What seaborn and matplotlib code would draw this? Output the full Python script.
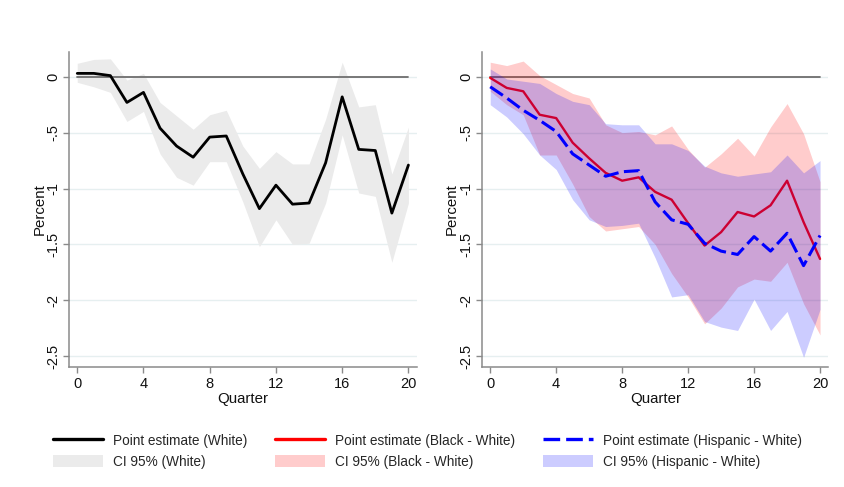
import numpy as np
import pandas as pd
import matplotlib
matplotlib.use("Agg")
import matplotlib.pyplot as plt
import seaborn as sns
from matplotlib.lines import Line2D
from matplotlib.patches import Patch

# ---------------- data ----------------
quarters = list(range(21))

white_est = [0.03, 0.03, 0.01, -0.23, -0.14, -0.46, -0.62, -0.72, -0.54, -0.53, -0.87,
             -1.18, -0.97, -1.14, -1.13, -0.77, -0.18, -0.65, -0.66, -1.22, -0.79]
white_hi = [0.12, 0.155, 0.16, -0.03, 0.03, -0.23, -0.35, -0.47, -0.34, -0.30, -0.62,
            -0.82, -0.67, -0.78, -0.78, -0.38, 0.13, -0.27, -0.25, -0.87, -0.45]
white_lo = [-0.05, -0.09, -0.14, -0.40, -0.31, -0.69, -0.90, -0.97, -0.76, -0.76, -1.12,
            -1.52, -1.28, -1.50, -1.49, -1.13, -0.52, -1.04, -1.07, -1.66, -1.13]

black_est = [-0.01, -0.10, -0.13, -0.34, -0.37, -0.59, -0.73, -0.86, -0.93, -0.90, -1.03,
             -1.10, -1.31, -1.51, -1.39, -1.21, -1.25, -1.15, -0.93, -1.30, -1.63]
black_hi = [0.13, 0.10, 0.14, 0.01, -0.07, -0.15, -0.19, -0.43, -0.50, -0.49, -0.52,
            -0.44, -0.65, -0.81, -0.69, -0.55, -0.71, -0.45, -0.24, -0.51, -0.94]
black_lo = [-0.13, -0.25, -0.34, -0.70, -0.70, -0.96, -1.25, -1.38, -1.36, -1.34, -1.50,
            -1.76, -1.97, -2.21, -2.07, -1.88, -1.81, -1.83, -1.66, -2.03, -2.31]

hisp_est = [-0.09, -0.19, -0.30, -0.39, -0.49, -0.69, -0.79, -0.89, -0.85, -0.84, -1.12,
            -1.28, -1.32, -1.49, -1.56, -1.59, -1.43, -1.56, -1.40, -1.69, -1.42]
hisp_hi = [0.07, -0.02, -0.04, -0.06, -0.15, -0.22, -0.25, -0.42, -0.43, -0.43, -0.60,
           -0.60, -0.66, -0.80, -0.86, -0.89, -0.87, -0.85, -0.70, -0.86, -0.75]
hisp_lo = [-0.25, -0.36, -0.51, -0.70, -0.83, -1.10, -1.28, -1.34, -1.33, -1.31, -1.62,
           -1.97, -1.95, -2.19, -2.24, -2.27, -1.99, -2.27, -2.10, -2.51, -2.08]

yticks = [0, -0.5, -1, -1.5, -2, -2.5]
ytick_labels = ["0", "-.5", "-1", "-1.5", "-2", "-2.5"]
xticks = [0, 4, 8, 12, 16, 20]

legend_labels = ["Point estimate (White)", "CI 95% (White)",
                 "Point estimate (Black - White)", "CI 95% (Black - White)",
                 "Point estimate (Hispanic - White)", "CI 95% (Hispanic - White)"]

# ---------------- style ----------------
sns.set_theme(style="white")
plt.rcParams["font.family"] = ["Liberation Sans", "DejaVu Sans"]

df = pd.DataFrame({"Quarter": quarters,
                   "white": white_est, "black": black_est, "hisp": hisp_est})

W, H = 844, 487
fig = plt.figure(figsize=(W / 100, H / 100), dpi=100)
fig.patch.set_facecolor("white")

ax_l = fig.add_axes([69.3 / W, 1 - 366.7 / H, (416.7 - 69.3) / W, (366.7 - 51.7) / H])
ax_r = fig.add_axes([482.3 / W, 1 - 366.7 / H, (828.3 - 482.3) / W, (366.7 - 51.7) / H])

spine_col = "#8a8a8a"
grid_col = "#e6eff0"


def style_axis(ax, ylabel_x):
    ax.set_xlim(-0.48, 20.5)
    ax.set_ylim(-2.594, 0.224)
    ax.set_yticks(yticks)
    ax.set_yticklabels(ytick_labels, rotation=90, va="center")
    ax.set_xticks(xticks)
    ax.set_xticklabels([str(t) for t in xticks])
    for s in ["top", "right"]:
        ax.spines[s].set_visible(False)
    for s in ["left", "bottom"]:
        ax.spines[s].set_color(spine_col)
        ax.spines[s].set_linewidth(1.1)
    ax.tick_params(axis="both", which="major", direction="out", length=4.5, width=1.0,
                   color=spine_col, labelsize=10.5, labelcolor="#111111", pad=3,
                   left=True, bottom=True)
    ax.tick_params(axis="y", pad=1.8)
    for y in yticks:
        ax.axhline(y, color=grid_col, lw=1.0, zorder=0)
    ax.set_xlabel("Quarter", fontsize=10.8, labelpad=0.5, color="#111111")
    ax.set_ylabel("Percent", fontsize=10.8, color="#111111")
    ax.yaxis.set_label_coords(ylabel_x, 0.5)
    ax.grid(False)
    ax.set_facecolor("white")


# ---- left panel ----
ax_l.fill_between(quarters, white_lo, white_hi, color="#ebebeb", lw=0, zorder=1)
ax_l.plot([0, 20], [0, 0], color="#6e6e6e", lw=1.3, zorder=2)
sns.lineplot(data=df, x="Quarter", y="white", ax=ax_l, color="black", lw=2.0, zorder=3)
style_axis(ax_l, -0.066)

# ---- right panel ----
ax_r.plot([0, 20], [0, 0], color="#6e6e6e", lw=1.3, zorder=1)
ax_r.fill_between(quarters, black_lo, black_hi, color="#ff0000", alpha=0.2, lw=0, zorder=2)
sns.lineplot(data=df, x="Quarter", y="black", ax=ax_r, color="#ff0000", lw=1.7, zorder=3)
ax_r.fill_between(quarters, hisp_lo, hisp_hi, color="#0000ff", alpha=0.2, lw=0, zorder=4)
sns.lineplot(data=df, x="Quarter", y="hisp", ax=ax_r, color="#0000ff", lw=2.2, zorder=5,
             dashes=False)
ax_r.lines[-1].set_dashes([5, 1.8])
style_axis(ax_r, -0.068)

# ---- legend ----
handles = [
    Line2D([0], [0], color="black", lw=2.4),
    Patch(facecolor="#ebebeb", edgecolor="none"),
    Line2D([0], [0], color="#ff0000", lw=2.4),
    Patch(facecolor="#ffcccc", edgecolor="none"),
    Line2D([0], [0], color="#0000ff", lw=2.4, dashes=[5, 1.8]),
    Patch(facecolor="#ccccff", edgecolor="none"),
]
fig.legend(handles, legend_labels, ncol=3, loc="upper left",
           bbox_to_anchor=(52.5 / W, 1 - 433.5 / H), frameon=False,
           fontsize=9.8, handlelength=3.68, handleheight=1.0, handletextpad=0.74,
           columnspacing=2.05, labelspacing=0.55, borderpad=0, borderaxespad=0)

fig.savefig("out.png", dpi=100, facecolor="white")
